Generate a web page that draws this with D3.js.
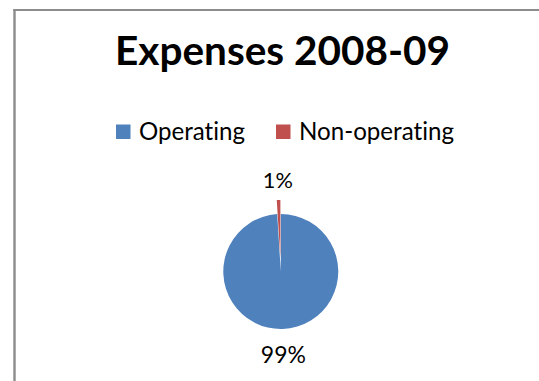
<!DOCTYPE html>
<html>
<head>
<meta charset="utf-8">
<script src="https://cdn.jsdelivr.net/npm/d3@7"></script>
<style>
  html, body { margin: 0; padding: 0; background: #fff; }
  svg { display: block; }
  text { font-variant-ligatures: none; font-feature-settings: "liga" 0, "clig" 0; }
</style>
</head>
<body>
<svg id="chart" width="539" height="381"></svg>
<script>
// ---- data ----
const titleText = "Expenses 2008-09";
const categories = ["Operating", "Non-operating"];
const values = [99, 1];
const labels = ["99%", "1%"];
const colors = ["#4F81BD", "#C0504D"];
const explode = [0, 14];

// ---- layout ----
const W = 539, H = 381;
const fontFamily = "Lato, 'Open Sans', 'Noto Sans', sans-serif";
const svg = d3.select("#chart");

svg.append("rect").attr("x", 0).attr("y", 0).attr("width", W).attr("height", H).attr("fill", "#fff");

// chart area border (only left and top visible)
svg.append("line").attr("x1", 14.5).attr("x2", 14.5).attr("y1", 9).attr("y2", H)
  .attr("stroke", "#8c8c8c").attr("stroke-width", 2.4);
svg.append("line").attr("x1", 13.3).attr("x2", W).attr("y1", 10).attr("y2", 10)
  .attr("stroke", "#8c8c8c").attr("stroke-width", 2);

// helper: fit font-size so text has a target width
function fitText(sel, targetWidth) {
  const node = sel.node();
  const fs = parseFloat(sel.attr("font-size"));
  const w = node.getComputedTextLength();
  if (w > 0) sel.attr("font-size", (fs * targetWidth / w).toFixed(2));
  return sel;
}

// title
const title = svg.append("text")
  .attr("x", 282.5).attr("y", 65)
  .attr("text-anchor", "middle")
  .attr("font-family", fontFamily)
  .attr("font-weight", "bold")
  .attr("font-size", 31)
  .attr("fill", "#000")
  .text(titleText);
fitText(title, 335);

// legend
const legendX = d3.scaleOrdinal().domain(categories).range([116, 276]);
const textWidths = { "Operating": 106, "Non-operating": 155 };
const lg = svg.append("g");
categories.forEach((c, i) => {
  lg.append("rect")
    .attr("x", legendX(c)).attr("y", 124.5)
    .attr("width", 14.5).attr("height", 14.5)
    .attr("fill", colors[i]);
  const t = lg.append("text")
    .attr("x", legendX(c) + 23).attr("y", 140)
    .attr("font-family", fontFamily)
    .attr("font-size", 24)
    .attr("fill", "#000")
    .text(c);
  fitText(t, textWidths[c]);
});

// pie
const cx = 280.8, cy = 271.5, r = 57.5;
const pie = d3.pie().sort(null).value(d => d);
const arcs = pie(values);
const arc = d3.arc().innerRadius(0).outerRadius(r);
const g = svg.append("g").attr("transform", `translate(${cx},${cy})`);

arcs.forEach((a, i) => {
  const mid = (a.startAngle + a.endAngle) / 2;
  const dx = Math.sin(mid) * explode[i], dy = -Math.cos(mid) * explode[i];
  g.append("path")
    .attr("d", arc(a))
    .attr("transform", `translate(${dx},${dy})`)
    .attr("fill", colors[i]);
});

// data labels (outside end)
const labelWidths = [45, 30];
arcs.forEach((a, i) => {
  const lr = r + explode[i] + 23;
  const la = d3.arc().innerRadius(lr).outerRadius(lr);
  const [lx, ly] = la.centroid(a);
  const t = g.append("text")
    .attr("x", lx).attr("y", ly + 11)
    .attr("text-anchor", "middle")
    .attr("font-family", fontFamily)
    .attr("font-size", 24)
    .attr("fill", "#000")
    .text(labels[i]);
  fitText(t, labelWidths[i]);
});
</script>
</body>
</html>
